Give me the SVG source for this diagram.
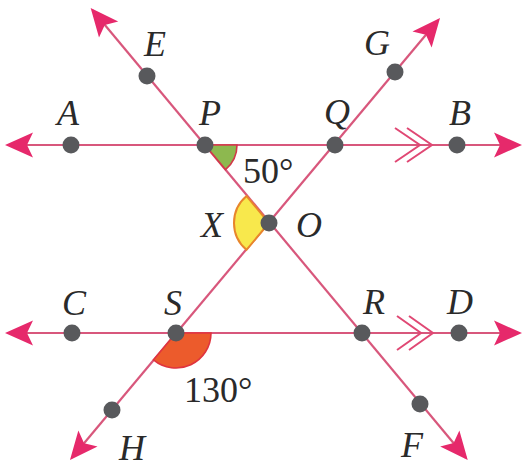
<svg xmlns="http://www.w3.org/2000/svg" width="524" height="467" viewBox="0 0 524 467">
<style>
.ln{stroke:#d8577c;stroke-width:2.2;fill:none}
.tick{stroke:#e04874;stroke-width:2;fill:none}
.dot{fill:#58595c}
.lbl{font-family:"Liberation Serif","Times New Roman",serif;font-style:italic;font-size:36px;fill:#2a2a2a;text-anchor:middle}
.deg{font-family:"Liberation Serif","Times New Roman",serif;font-size:36px;fill:#2a2a2a}
</style>
<defs>
<marker id="arr" viewBox="-28 -13 32 26" refX="0" refY="0" markerWidth="32" markerHeight="26" markerUnits="userSpaceOnUse" orient="auto-start-reverse">
<path d="M3,0 L-25,-12.5 L-19,0 L-25,12.5 Z" fill="#e6296b"/>
</marker>
</defs>
<rect width="524" height="467" fill="#ffffff"/>
<g id="connectors">
<line class="ln" x1="8" y1="145" x2="519" y2="145" marker-start="url(#arr)" marker-end="url(#arr)"/>
<line class="ln" x1="8" y1="333" x2="519" y2="333" marker-start="url(#arr)" marker-end="url(#arr)"/>
<line class="ln" x1="92.6" y1="10.3" x2="465.8" y2="457.7" marker-start="url(#arr)" marker-end="url(#arr)"/>
<line class="ln" x1="438.1" y1="20.3" x2="71.9" y2="457.7" marker-start="url(#arr)" marker-end="url(#arr)"/>
<path class="tick" d="M395,128 L420,145 L395,162 M407,128 L432,145 L407,162"/>
<path class="tick" d="M397,316 L421,333 L397,350 M409,316 L433,333 L409,350"/>
</g>
<g id="angle-P">
<path d="M205,145 L237,145 A32,32 0 0,1 225.5,169.6 Z" fill="#8db84f" stroke="#d2384a" stroke-width="1.6"/>
</g>
<g id="angle-X">
<path d="M269,223 L246.6,196.1 A35,35 0 0,0 246.5,249.8 Z" fill="#f8e84c" stroke="#e8862c" stroke-width="2"/>
</g>
<g id="angle-S">
<path d="M176,333 L211,333 A35,35 0 0,1 153.5,359.8 Z" fill="#ec5b2c" stroke="#e0343e" stroke-width="1.6"/>
</g>
<g id="A"><circle class="dot" cx="71" cy="145" r="8.5"/><text class="lbl" x="68" y="125">A</text></g>
<g id="P"><circle class="dot" cx="205" cy="145" r="8.5"/><text class="lbl" x="210" y="125">P</text></g>
<g id="Q"><circle class="dot" cx="335" cy="145" r="8.5"/><text class="lbl" x="337" y="124">Q</text></g>
<g id="B"><circle class="dot" cx="457" cy="145" r="8.5"/><text class="lbl" x="460" y="125">B</text></g>
<g id="E"><circle class="dot" cx="147" cy="76" r="8.5"/><text class="lbl" x="155" y="56">E</text></g>
<g id="G"><circle class="dot" cx="395" cy="72" r="8.5"/><text class="lbl" x="377" y="55">G</text></g>
<g id="O"><circle class="dot" cx="269" cy="223" r="8.5"/><text class="lbl" x="309" y="237">O</text></g>
<g id="X"><text class="lbl" x="212" y="237">X</text></g>
<g id="C"><circle class="dot" cx="72" cy="333" r="8.5"/><text class="lbl" x="74" y="315">C</text></g>
<g id="S"><circle class="dot" cx="176" cy="333" r="8.5"/><text class="lbl" x="173" y="315">S</text></g>
<g id="R"><circle class="dot" cx="362" cy="333" r="8.5"/><text class="lbl" x="374" y="314">R</text></g>
<g id="D"><circle class="dot" cx="459" cy="333" r="8.5"/><text class="lbl" x="460" y="314">D</text></g>
<g id="H"><circle class="dot" cx="112" cy="410" r="8.5"/><text class="lbl" x="132" y="460">H</text></g>
<g id="F"><circle class="dot" cx="420" cy="404" r="8.5"/><text class="lbl" x="412" y="457">F</text></g>
<g id="label-50"><text class="deg" x="243" y="183">50°</text></g>
<g id="label-130"><text class="deg" x="184" y="402">130°</text></g>
</svg>
